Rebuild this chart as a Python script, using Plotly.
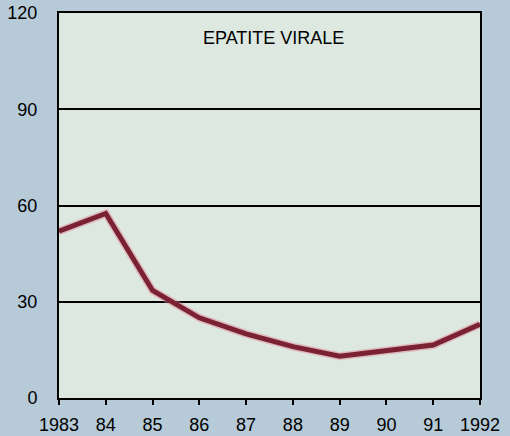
import plotly.graph_objects as go

# Data
years = [1983, 1984, 1985, 1986, 1987, 1988, 1989, 1990, 1991, 1992]
year_labels = ["1983", "84", "85", "86", "87", "88", "89", "90", "91", "1992"]
cases = [52, 57.5, 33.5, 25, 20, 16, 13, 14.8, 16.5, 23]
y_ticks = [0, 30, 60, 90, 120]

line_color = "#7a2234"
page_bg = "#b7cad7"

fig = go.Figure()

# soft pink halo under the line (print look)
fig.add_trace(go.Scatter(
    x=years, y=cases, mode="lines",
    line=dict(color="rgba(225,130,150,0.45)", width=8),
    hoverinfo="skip", showlegend=False
))
fig.add_trace(go.Scatter(
    x=years, y=cases, mode="lines",
    line=dict(color=line_color, width=5),
    name="Epatite virale", showlegend=False
))

fig.update_layout(
    width=510, height=436,
    margin=dict(l=59, r=30, t=13, b=38),
    paper_bgcolor=page_bg,
    plot_bgcolor="#dde8e1",
    font=dict(family="Liberation Sans, Arial, sans-serif", size=18, color="#000"),
    annotations=[dict(
        text="EPATITE VIRALE", x=0.51, y=0.935, xref="paper", yref="paper",
        xanchor="center", yanchor="middle",
        showarrow=False, font=dict(size=18, color="#000")
    )]
)

fig.update_xaxes(
    range=[1983, 1992], tickvals=years, ticktext=year_labels,
    showgrid=False, zeroline=False, automargin=False,
    showline=True, linecolor="black", linewidth=2, mirror=True,
    ticks="outside", ticklen=5, tickwidth=2, tickcolor="black",
    ticklabelstandoff=4
)
fig.update_yaxes(
    range=[0, 120], tickvals=y_ticks, automargin=False,
    showgrid=True, gridcolor="black", gridwidth=1.5, zeroline=False,
    showline=True, linecolor="black", linewidth=2, mirror=True,
    ticks="", ticklabelstandoff=16
)

# drop the default page margin so the figure sits at the window corner
fig.write_html(
    "out.html",
    config={"displayModeBar": False},
    post_script="document.body.style.margin='0';"
                "document.body.style.background='" + page_bg + "';"
)
